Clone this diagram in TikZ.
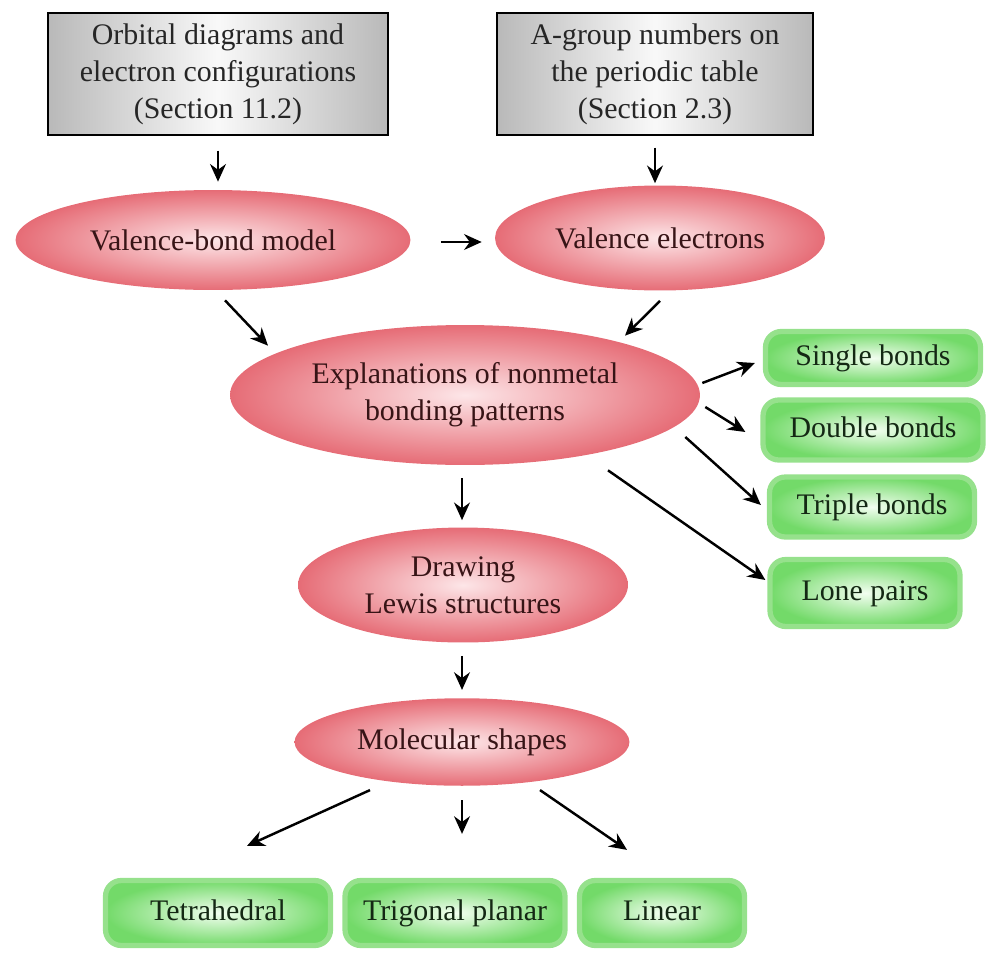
\documentclass[tikz,border=0pt]{standalone}
\usepackage{fontspec}
\setmainfont{Liberation Serif}
\usepackage{xcolor}
\usetikzlibrary{arrows.meta,shapes.geometric}

\definecolor{pinkin}{RGB}{253,230,232}
\definecolor{pinkout}{RGB}{230,108,118}
\definecolor{greenin}{RGB}{242,254,240}
\definecolor{greenout}{RGB}{115,218,105}
\definecolor{greenrim}{RGB}{150,225,140}
\definecolor{redtext}{RGB}{55,20,22}
\definecolor{greentext}{RGB}{20,40,20}

\begin{document}
\begin{tikzpicture}[x=0.02cm, y=-0.02cm,
  every node/.style={font=\fontsize{17}{21}\selectfont, align=center},
  source/.style={rectangle, draw=black, line width=0.8pt, left color=gray!55, right color=gray!55, middle color=gray!5, text=black!85},
  idea/.style={ellipse, shade, inner color=pinkin, outer color=pinkout, text=redtext, inner sep=0pt},
  result/.style={rectangle, rounded corners=9pt, draw=greenrim, line width=3pt, shade, inner color=greenin, outer color=greenout, text=greentext, inner sep=0pt, text height=12pt, text depth=4pt},
  arrow/.style={-{Stealth[length=10pt, width=9pt]}, line width=1.4pt}
]
\useasboundingbox (0,0) rectangle (987,957);

% top sources
\node[source, minimum width=6.8cm, minimum height=2.44cm] (orbital) at (218,74) {Orbital diagrams and\\electron configurations\\(Section 11.2)};
\node[source, minimum width=6.32cm, minimum height=2.44cm] (agroup) at (655,74) {A-group numbers on\\the periodic table\\(Section 2.3)};

% concept ellipses
\node[idea, minimum width=7.9cm, minimum height=2.0cm] (vbmodel) at (213,240) {Valence-bond model};
\node[idea, minimum width=6.6cm, minimum height=2.1cm] (valence) at (660,238) {Valence electrons};
\node[idea, minimum width=9.4cm, minimum height=2.8cm] (explain) at (465,395) {Explanations of nonmetal\\bonding patterns};
\node[idea, minimum width=6.6cm, minimum height=2.3cm] (lewis) at (463,585) {Drawing\\Lewis structures};
\node[idea, minimum width=6.7cm, minimum height=1.75cm] (shapes) at (462,742) {Molecular shapes};

% bond results
\node[result, minimum width=4.3cm, minimum height=1.06cm] (single) at (873,358) {Single bonds};
\node[result, minimum width=4.4cm, minimum height=1.2cm] (double) at (873,430) {Double bonds};
\node[result, minimum width=4.1cm, minimum height=1.2cm] (triple) at (872,507) {Triple bonds};
\node[result, minimum width=3.8cm, minimum height=1.34cm] (lone) at (865,593) {Lone pairs};

% shape results
\node[result, minimum width=4.5cm, minimum height=1.3cm] (tetra) at (218,913) {Tetrahedral};
\node[result, minimum width=4.4cm, minimum height=1.3cm] (trigonal) at (455,913) {Trigonal planar};
\node[result, minimum width=3.3cm, minimum height=1.3cm] (linear) at (662,913) {Linear};

% connectors
\draw[arrow] ([shift={(0,15)}]orbital.south) -- ([shift={(5,-8)}]vbmodel.north);
\draw[arrow] ([shift={(0,12)}]agroup.south) -- ([shift={(-5,-2)}]valence.north);
\draw[arrow] ([shift={(30,2)}]vbmodel.east) -- ([shift={(-13,4)}]valence.west);
\draw[arrow] ([shift={(12,10)}]vbmodel.south) -- ([shift={(-197,21)}]explain.north);
\draw[arrow] ([shift={(0,10)}]valence.south) -- ([shift={(160,11)}]explain.north);
\draw[arrow] ([shift={(-3,13)}]explain.south) -- ([shift={(-1,-7)}]lewis.north);
\draw[arrow] ([shift={(-1,13)}]lewis.south) -- ([shift={(0,-8)}]shapes.north);
\draw[arrow] ([shift={(2,-12)}]explain.east) -- ([shift={(-8,5)}]single.west);
\draw[arrow] ([shift={(5,12)}]explain.east) -- ([shift={(-15,2)}]double.west);
\draw[arrow] ([shift={(-15,42)}]explain.east) -- ([shift={(-6,-2)}]triple.west);
\draw[arrow] ([shift={(143,5)}]explain.south) -- ([shift={(-2,-13)}]lone.west);
\draw[arrow] ([shift={(-92,4)}]shapes.south) -- ([shift={(29,-32)}]tetra.north);
\draw[arrow] ([shift={(0,14)}]shapes.south) -- ([shift={(7,-44)}]trigonal.north);
\draw[arrow] ([shift={(78,4)}]shapes.south) -- ([shift={(-35,-28)}]linear.north);

\end{tikzpicture}
\end{document}
